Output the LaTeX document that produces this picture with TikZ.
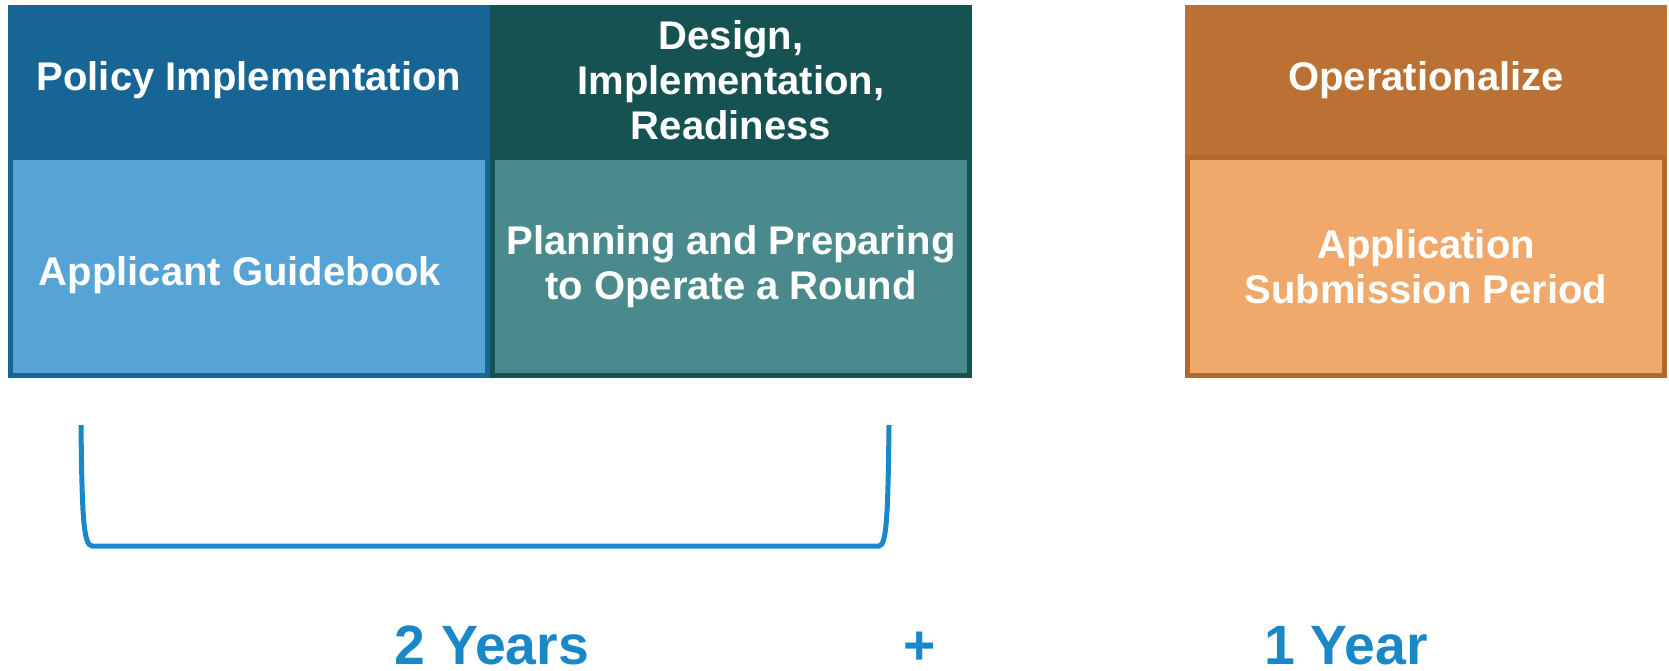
\documentclass[tikz,border=0pt]{standalone}
\usepackage{fontspec}
\setmainfont{Liberation Sans}
\usepackage{tikz}
\usetikzlibrary{positioning}
\definecolor{polblue}{RGB}{23,101,148}
\definecolor{guideblue}{RGB}{85,164,213}
\definecolor{desgreen}{RGB}{23,82,82}
\definecolor{plangreen}{RGB}{74,138,140}
\definecolor{opbrown}{RGB}{186,113,51}
\definecolor{subbrown}{RGB}{176,106,46}
\definecolor{suborange}{RGB}{240,169,106}
\definecolor{barblue}{RGB}{26,136,200}

\begin{document}
\begin{tikzpicture}[x=0.5pt,y=0.5pt,
  head/.style={rectangle,inner sep=0pt,outer sep=0pt,minimum width=241pt,
    minimum height=75pt,text=white,align=center,
    font=\bfseries\fontsize{20}{22.5}\selectfont},
  body/.style={rectangle,inner sep=0pt,line width=2.5pt,minimum width=238.5pt,
    minimum height=109pt,text=white,align=center,
    font=\bfseries\fontsize{20}{22.5}\selectfont},
  bodytext/.style={inner sep=0pt,text=white,align=center,
    font=\bfseries\fontsize{20}{22.5}\selectfont},
  total/.style={text=barblue,inner sep=0pt,anchor=base,
    font=\bfseries\fontsize{27.7}{32}\selectfont}]
\useasboundingbox (0,0) rectangle (1669,670);
% phases
\node[head,fill=polblue,anchor=north west] (policy) at (8,665) {Policy Implementation};
\node[body,fill=guideblue,draw=polblue,below=0pt of policy] (guide) {};
\node[bodytext] (guidetxt) at ([xshift=-4.5pt,yshift=-4.5pt]guide.center) {Applicant Guidebook};
\node[head,fill=desgreen,right=0pt of policy] (design) {Design,\\Implementation,\\Readiness};
\node[body,fill=plangreen,draw=desgreen,below=0pt of design] (plan) {Planning and Preparing\\to Operate a Round};
\node[head,fill=opbrown,anchor=north west] (oper) at (1185,665) {Operationalize};
\node[body,fill=suborange,draw=subbrown,below=0pt of oper] (submit) {Application\\Submission Period};
% bracket
\coordinate (brL) at (81,245);
\coordinate (brR) at (889,245);
\draw[barblue,line width=2.5pt] (brL) .. controls (82,160) and (83,124) .. (92,124)
  -- (879,124) .. controls (887,124) and (888,160) .. (brR);
% durations
\node[total] (two) at (492,6) {2 Years};
\node[total] (plus) at (920,6) {+};
\node[total] (one) at (1346,6) {1 Year};
\end{tikzpicture}
\end{document}
